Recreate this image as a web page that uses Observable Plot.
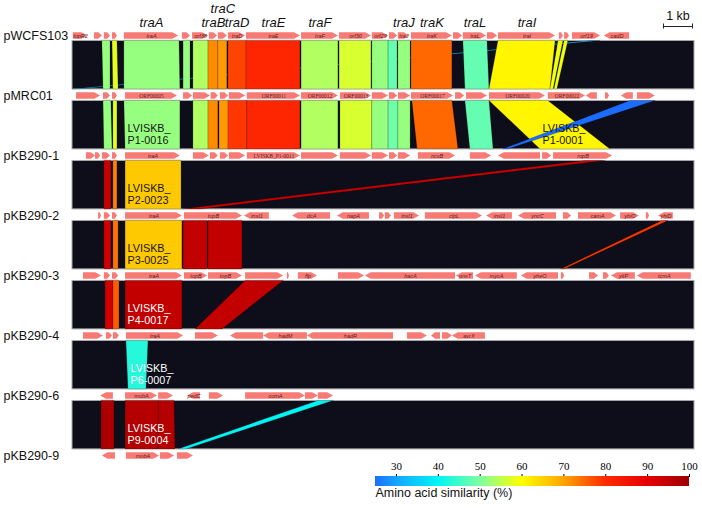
<!DOCTYPE html>
<html><head><meta charset="utf-8">
<script src="https://cdn.jsdelivr.net/npm/d3@7"></script>
<script src="https://cdn.jsdelivr.net/npm/@observablehq/plot@0.6"></script>
<style>
body{margin:0;background:#fff;}
#wrap{position:relative;width:702px;height:508px;overflow:hidden;background:#fff;}
#legend{position:absolute;left:340px;top:455px;}
</style></head><body><div id="wrap"></div>
<script>
// ---------- data ----------
const plasmids = ["pWCFS103","pMRC01","pKB290-1","pKB290-2","pKB290-3","pKB290-4","pKB290-6","pKB290-9"];

// genes: [start kb, end kb, strand, name]
const genesPWCFS103 = [
  [0.03,0.52,1,"topR2"],[0.76,1.03,1,""],[1.10,1.31,1,""],[1.38,1.55,1,""],
  [1.79,3.66,1,"traA"],[3.79,4.07,1,""],[4.14,4.69,1,"orf38"],[4.72,5.00,1,""],
  [5.03,5.34,1,""],[5.38,5.97,1,"traD"],[6.00,7.86,1,"traE"],[7.90,9.17,1,"traF"],
  [9.21,10.31,1,"orf30"],[10.34,10.90,1,"orf29"],[10.93,11.21,1,""],[11.24,11.62,1,"traJ"],
  [11.69,13.10,1,"traK"],[13.14,13.45,1,""],[13.48,14.28,1,"traL"],[14.31,14.66,1,""],
  [14.69,16.66,1,"traI"],[16.79,16.93,1,""],[16.97,17.14,1,""],[17.24,18.21,1,"orf19"],
  [18.34,19.21,-1,"cadD"]
];
const genesPMRC01 = [
  [0.14,0.97,1,""],[1.07,1.31,1,""],[1.38,1.55,1,""],[1.83,3.62,1,"ORF00005"],
  [3.83,4.14,1,""],[4.17,4.76,1,""],[4.78,5.03,1,""],[5.10,5.38,1,""],
  [5.41,5.97,1,""],[6.03,7.86,1,"ORF00011"],[7.90,9.17,1,"ORF00012"],[9.24,10.31,1,"ORF00013"],
  [10.34,10.90,1,""],[10.93,11.21,1,""],[11.24,11.66,1,""],[11.69,13.14,1,"ORF00017"],
  [13.21,13.52,1,""],[13.59,14.31,1,""],[14.38,16.31,1,"ORF00020"],[16.41,17.69,1,"ORF00022"],
  [17.72,18.10,-1,""],[18.38,18.52,1,""],[18.93,19.34,-1,""],[19.48,20.10,1,""]
];
const genesPKB290_1 = [
  [0.48,0.79,1,""],[0.79,0.97,1,""],[1.03,1.31,1,""],[1.38,1.55,1,""],
  [1.83,3.72,1,"traA"],[4.17,4.72,1,""],[4.76,5.03,1,""],[5.10,5.38,1,""],
  [5.41,5.97,1,""],[6.03,7.86,1,"LVISKB_P1-0011"],[7.90,9.17,1,""],[9.24,10.31,1,""],
  [10.34,10.90,1,""],[10.93,11.21,1,""],[11.24,11.66,1,""],[11.93,13.21,1,"ncsB"],
  [13.72,14.45,1,""],[14.69,16.14,-1,""],[16.21,16.52,1,""],[16.59,18.62,1,"ropB"]
];
const genesPKB290_2 = [
  [0.90,1.00,1,""],[1.10,1.31,1,""],[1.38,1.55,1,""],[1.83,3.79,1,"traA"],
  [3.86,5.86,1,"topB"],[5.93,6.79,-1,"insI1"],[7.59,8.90,-1,"dcA"],[9.14,10.24,-1,"napA"],
  [10.59,10.76,1,""],[10.79,11.00,1,""],[11.10,11.97,1,"insI1"],[12.17,14.14,1,"clpL"],
  [14.28,15.17,-1,"insI1"],[15.38,16.69,-1,"yncC"],[16.93,17.21,1,""],[17.45,18.76,1,"camA"],
  [18.90,19.55,1,"ybiO"],[19.79,19.90,1,""],[20.21,20.72,-1,"yhiD"]
];
const genesPKB290_3 = [
  [0.38,1.00,1,""],[1.10,1.31,1,""],[1.38,1.59,1,""],[1.83,3.79,1,"traA"],
  [3.86,4.66,1,"topB"],[4.69,5.86,1,"topB"],[5.97,7.28,1,""],[7.41,7.48,1,""],
  [7.79,8.45,1,"ffp"],[9.17,10.07,1,""],[10.10,13.21,-1,"bacA"],[13.24,13.83,-1,"gnsT"],
  [13.90,15.34,-1,"mycA"],[15.48,16.76,-1,"yheO"],[16.86,16.97,1,""],[17.83,18.14,1,""],
  [18.31,18.52,1,""],[18.59,19.41,-1,"yitP"],[19.48,21.34,-1,"tcmA"]
];
const genesPKB290_4 = [
  [0.38,1.07,1,""],[1.17,1.38,1,""],[1.41,1.62,1,""],[1.86,3.83,1,"traA"],
  [4.24,5.03,1,""],[5.45,6.59,-1,""],[6.59,8.10,-1,"hadM"],[8.10,11.07,-1,"hadR"],
  [11.55,12.24,1,""],[12.38,12.69,-1,""],[12.76,13.10,1,""],[13.10,14.24,-1,"avrX"]
];
const genesPKB290_6 = [
  [0.97,1.41,-1,""],[1.83,2.93,1,"mobA"],[2.97,3.48,1,""],[3.97,4.41,-1,"pedC"],
  [4.72,5.21,1,""],[5.97,8.03,1,"comA"],[8.03,8.48,1,""],[8.48,9.00,1,""]
];
const genesPKB290_9 = [
  [1.03,1.48,-1,""],[1.86,3.00,1,"mobA"],[3.03,3.52,1,""],[3.62,4.17,1,""]
];

// heading labels above pWCFS103: [label, index of gene in genesPWCFS103]
const headingLabels = [["traA",4],["traB",7],["traC",8],["traD",9],["traE",10],["traF",11],["traJ",15],["traK",16],["traL",18],["traI",20]];

// homology links: [upper track, top start, top end, bottom start, bottom end, similarity %, label]
const links = [
  [0,17.85,18.20,0.00,0.25,32,""],
  [0,1.03,1.31,1.07,1.31,52,""],[0,1.38,1.55,1.41,1.59,58,""],[0,1.79,3.69,1.79,3.72,52,""],
  [0,3.83,4.07,3.83,4.07,52,""],[0,4.17,4.69,4.17,4.69,54,""],[0,4.69,5.03,4.69,5.03,72,""],
  [0,5.03,5.34,5.03,5.34,71,""],[0,5.38,6.00,5.38,6.00,78,""],[0,6.00,7.86,6.00,7.86,81,""],
  [0,7.90,9.17,7.90,9.17,54,""],[0,9.21,10.31,9.21,10.31,57,""],[0,10.34,10.90,10.34,10.90,52,""],
  [0,10.90,11.21,10.90,11.21,48,""],[0,11.24,11.66,11.24,11.66,52,""],[0,11.69,13.10,11.69,13.10,75,""],
  [0,13.48,14.31,13.55,14.38,48,""],[0,14.69,16.66,14.38,16.48,61,""],[0,16.76,16.93,16.48,16.59,59,""],
  [0,16.97,17.10,16.62,16.72,59,""],
  [1,1.07,1.34,1.10,1.38,52,""],[1,1.41,1.55,1.41,1.55,58,""],[1,1.79,3.72,1.83,3.72,52,"LVISKB_\nP1-0016"],
  [1,4.17,4.69,4.17,4.69,54,""],[1,4.69,5.03,4.69,5.03,72,""],[1,5.07,5.38,5.07,5.38,71,""],
  [1,5.38,6.03,5.38,6.03,79,""],[1,6.03,7.86,6.03,7.86,81,""],[1,7.90,9.17,7.90,9.17,54,""],
  [1,9.24,10.34,9.24,10.34,57,""],[1,10.34,10.90,10.34,10.90,52,""],[1,10.90,11.24,10.90,11.24,49,""],
  [1,11.24,11.66,11.24,11.66,52,""],[1,11.72,13.10,11.90,13.31,75,""],[1,13.55,14.38,13.72,14.52,48,""],
  [1,14.38,16.41,16.14,18.55,61,"LVISKB_\nP1-0001"],[1,19.24,20.10,14.86,15.03,25,""],
  [2,1.10,1.34,1.10,1.34,94,""],[2,1.41,1.55,1.41,1.55,73,""],[2,1.83,3.76,1.83,3.76,66,"LVISKB_\nP2-0023"],
  [2,17.69,18.38,3.79,4.41,94,""],
  [3,1.10,1.34,1.10,1.34,93,""],[3,1.41,1.59,1.41,1.59,74,""],[3,1.83,3.79,1.83,3.79,66,"LVISKB_\nP3-0025"],
  [3,3.83,4.66,3.83,4.66,95,""],[3,4.69,5.86,4.69,5.86,95,""],[3,20.34,20.55,16.86,16.97,79,""],
  [4,1.14,1.41,1.14,1.41,93,""],[4,1.41,1.62,1.41,1.62,76,""],[4,1.83,3.79,1.83,3.79,95,"LVISKB_\nP4-0017"],
  [4,5.97,7.28,4.24,5.17,95,""],
  [5,1.86,2.62,1.93,2.55,43,"LVISKB_\nP6-0007"],
  [6,1.00,1.45,1.00,1.45,98,""],[6,1.83,2.97,1.83,2.97,97,"LVISKB_\nP9-0004"],[6,2.97,3.52,2.97,3.55,97,""],
  [6,8.48,9.00,3.66,3.93,40,""]
];

const colorDomain = [25,30,40,50,60,70,80,90,100];
const colorRange = ["#1c6cff","#13a5ff","#00f5f5","#7dffa0","#ffff00","#ffa500","#ff2a00","#e60000","#9e0000"];
const legendTicks = [30,40,50,60,70,80,90,100];
const legendTitle = "Amino acid similarity (%)";
const scaleBarKb = 1;

// ---------- derived tables ----------
const geneTracks = [genesPWCFS103,genesPMRC01,genesPKB290_1,genesPKB290_2,genesPKB290_3,genesPKB290_4,genesPKB290_6,genesPKB290_9];
const genes = geneTracks.flatMap((list,t)=>list.map(([s,e,strand,name],k)=>({track:t,s,e,strand,name,id:`${t}-${k}`})));
const H = 0.055;            // half arrow height (track units)
const BAND_TOP = 0.083, BAND_BOT = 0.89;
const XMAX = 21.45;
const arrowPts = genes.flatMap(g=>{
  const tip = Math.min(0.2,(g.e-g.s)*0.45);
  if (g.strand > 0) return [
    {id:g.id,y:g.track-H,x1:g.s,x2:g.e-tip},{id:g.id,y:g.track,x1:g.s,x2:g.e},{id:g.id,y:g.track+H,x1:g.s,x2:g.e-tip}];
  return [
    {id:g.id,y:g.track-H,x1:g.s+tip,x2:g.e},{id:g.id,y:g.track,x1:g.s,x2:g.e},{id:g.id,y:g.track+H,x1:g.s+tip,x2:g.e}];
});
const linkPts = links.flatMap(([b,a1,a2,b1,b2,sim],k)=>[
  {id:k,y:b+BAND_TOP,x1:a1,x2:a2,sim},{id:k,y:b+BAND_BOT,x1:b1,x2:b2,sim}]);
const bands = d3.range(plasmids.length-1);
const headings = headingLabels.map(([label,gi])=>({label,x:(genesPWCFS103[gi][0]+genesPWCFS103[gi][1])/2}));
const labeledLinks = links.filter(l=>l[6]);
const isSerif = g => g.track===1 || g.name.startsWith("LVISKB");

const sans = "Liberation Sans, Arial, Helvetica, sans-serif";
const serif = "Liberation Serif, Times New Roman, serif";

const main = Plot.plot({
  width:702, height:508,
  marginLeft:72, marginRight:8, marginTop:35.5, marginBottom:52.5,
  x:{domain:[0,XMAX], axis:null},
  y:{domain:[0,7], range:[35.5,455.5], axis:null},
  color:{type:"linear", domain:colorDomain, range:colorRange},
  style:{fontFamily:sans, background:"white", overflow:"visible"},
  marks:[
    Plot.rect(bands,{x1:()=>0,x2:()=>XMAX,y1:b=>b+BAND_TOP,y2:b=>b+BAND_BOT,fill:"#0e0e1b",stroke:"#a8a8a8",strokeWidth:1}),
    Plot.areaX(linkPts,{y:"y",x1:"x1",x2:"x2",z:"id",fill:"sim",curve:"linear",stroke:"#000",strokeOpacity:0.3,strokeWidth:0.6}),
    Plot.areaX(arrowPts,{y:"y",x1:"x1",x2:"x2",z:"id",fill:"#f87a74",curve:"linear"}),
    Plot.text(genes.filter(g=>g.name && !isSerif(g)),{x:g=>(g.s+g.e)/2,y:"track",text:"name",fontSize:5.5,fontStyle:"italic",fill:"#5a2020"}),
    Plot.text(genes.filter(g=>g.name && isSerif(g)),{x:g=>(g.s+g.e)/2,y:"track",text:"name",fontSize:5.5,fontFamily:serif,fill:"#5a2020"}),
    Plot.text(plasmids,{x:()=>0,y:(d,i)=>i,text:d=>d,textAnchor:"start",dx:-69,fontSize:12.5,fill:"#111"}),
    Plot.text(headings.filter(h=>h.label!=="traC"),{x:"x",y:()=>0,text:"label",dy:-13,fontSize:13,fontStyle:"italic",fill:"#111"}),
    Plot.text(headings.filter(h=>h.label==="traC"),{x:"x",y:()=>0,text:"label",dy:-27,fontSize:13,fontStyle:"italic",fill:"#111"}),
    Plot.ruleY([scaleBarKb],{x1:()=>20.38,x2:d=>20.38+d,y:()=>-0.158,stroke:"#222",strokeWidth:1}),
    Plot.ruleX([0,scaleBarKb],{x:d=>20.38+d,y1:()=>-0.2,y2:()=>-0.116,stroke:"#222",strokeWidth:1}),
    Plot.text([`${scaleBarKb} kb`],{x:()=>20.38+scaleBarKb/2,y:()=>-0.34,text:d=>d,fontSize:12.5,fill:"#111"}),
    Plot.text(labeledLinks.filter(l=>l[5]>=45 && l[5]<=85),{x:l=>l[3],y:l=>l[0]+BAND_BOT,text:l=>l[6],textAnchor:"start",lineAnchor:"middle",lineHeight:1.12,dx:2,dy:-15,fontSize:10.8,fill:"#151515"}),
    Plot.text(labeledLinks.filter(l=>l[5]<45 || l[5]>85),{x:l=>l[3],y:l=>l[0]+BAND_BOT,text:l=>l[6],textAnchor:"start",lineAnchor:"middle",lineHeight:1.12,dx:2,dy:-15,fontSize:10.8,fill:"white"})
  ]
});
document.getElementById("wrap").appendChild(main);

const legend = Plot.plot({
  width:362, height:53,
  marginLeft:35, marginRight:13, marginTop:21, marginBottom:22,
  style:{fontFamily:serif, fontSize:"11px", background:"transparent", overflow:"visible"},
  x:{domain:[colorDomain[0],colorDomain[colorDomain.length-1]], axis:"top", ticks:legendTicks, tickSize:3, tickPadding:4},
  y:{domain:[0,1], axis:null},
  marks:[
    Plot.rect([0],{x1:()=>colorDomain[0],x2:()=>colorDomain[colorDomain.length-1],y1:()=>0,y2:()=>1,fill:"url(#simGradient)"}),
    Plot.text([legendTitle],{frameAnchor:"bottom-left",lineAnchor:"top",dy:2,dx:0,fontFamily:sans,fontSize:12.5,fill:"#111"})
  ]
});
const grad = d3.select(legend).insert("defs",":first-child").append("linearGradient").attr("id","simGradient");
const d0 = colorDomain[0], d1 = colorDomain[colorDomain.length-1];
colorDomain.forEach((d,i)=>grad.append("stop").attr("offset",`${(d-d0)/(d1-d0)*100}%`).attr("stop-color",colorRange[i]));
legend.id = "legend";
document.getElementById("wrap").appendChild(legend);
</script></body></html>
